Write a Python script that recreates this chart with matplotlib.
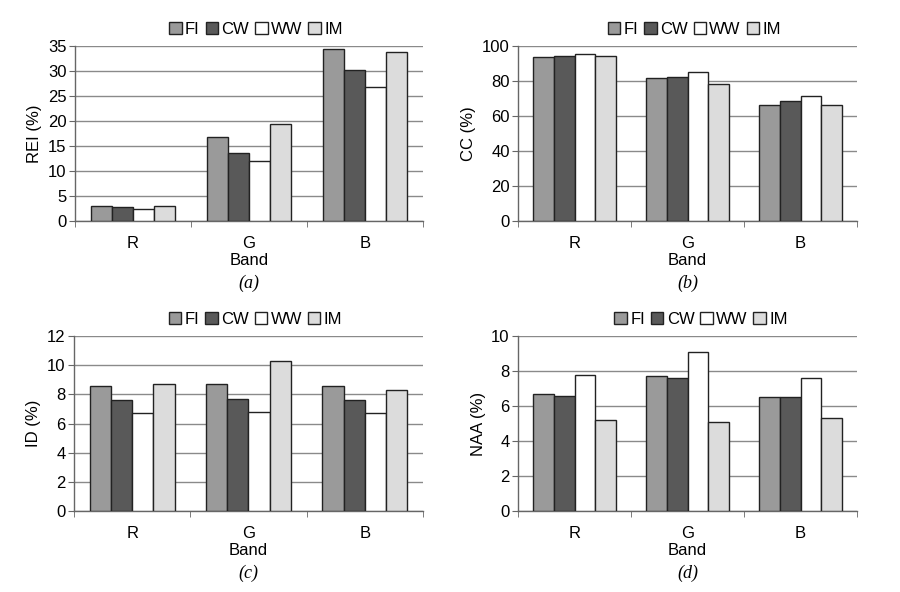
import numpy as np
import matplotlib
matplotlib.use("Agg")
import matplotlib.pyplot as plt

plt.rcParams['font.family'] = ['Liberation Sans', 'DejaVu Sans']

bands = ['R', 'G', 'B']
methods = ['FI', 'CW', 'WW', 'IM']
colors = ['#9a9a9a', '#595959', '#ffffff', '#dcdcdc']

rei = [[3.0, 16.7, 34.4],
       [2.7, 13.5, 30.1],
       [2.3, 12.0, 26.8],
       [3.0, 19.3, 33.8]]
cc = [[93.5, 81.5, 66.5],
      [94.5, 82.5, 68.5],
      [95.5, 85.0, 71.5],
      [94.5, 78.5, 66.5]]
id_vals = [[8.6, 8.7, 8.6],
           [7.6, 7.7, 7.6],
           [6.7, 6.8, 6.7],
           [8.7, 10.3, 8.3]]
naa = [[6.7, 7.7, 6.5],
       [6.6, 7.6, 6.5],
       [7.8, 9.1, 7.6],
       [5.2, 5.1, 5.3]]

panels = [
    (rei, 'REI (%)', 35, 5, '(a)', [0.0833, 0.6267, 0.3867, 0.2956], 0.52),
    (cc, 'CC (%)', 100, 20, '(b)', [0.5756, 0.6267, 0.3767, 0.2956], 0.52),
    (id_vals, 'ID (%)', 12, 2, '(c)', [0.0822, 0.1368, 0.3878, 0.2956], 0.52),
    (naa, 'NAA (%)', 10, 2, '(d)', [0.5756, 0.1368, 0.3767, 0.2956], 0.54),
]

fig = plt.figure(figsize=(9, 5.92), dpi=100)
x = np.arange(len(bands))
w = 0.1825
fs = 12

for data, ylabel, ymax, step, tag, pos, legx in panels:
    ax = fig.add_axes(pos)
    for i, m in enumerate(methods):
        ax.bar(x + (i - 1.5) * w, data[i], w, color=colors[i], edgecolor='#222222',
               linewidth=1.0, label=m, zorder=3)
    ax.set_xlim(-0.5, 2.5)
    ax.set_ylim(0, ymax)
    ax.set_yticks(np.arange(0, ymax + step / 2, step))
    ax.yaxis.grid(True, color='#8a8a8a', linewidth=1.0, zorder=0)
    ax.set_axisbelow(True)
    ax.set_xticks(x)
    ax.set_xticklabels(bands)
    ax.set_xticks([-0.5, 0.5, 1.5, 2.5], minor=True)
    ax.tick_params(axis='x', which='major', length=0, labelsize=fs, pad=11)
    ax.tick_params(axis='x', which='minor', length=4, color='#666666')
    ax.tick_params(axis='y', length=4, color='#666666', labelsize=fs, pad=2)
    for s in ['top', 'right']:
        ax.spines[s].set_visible(False)
    for s in ['left', 'bottom']:
        ax.spines[s].set_color('#666666')
        ax.spines[s].set_linewidth(1.0)
    ax.set_ylabel(ylabel, fontsize=fs, labelpad=4)
    ax.set_xlabel('Band', fontsize=fs, labelpad=1)
    ax.text(0.5, -0.355, tag, transform=ax.transAxes, ha='center', va='center',
            fontsize=13, family='Liberation Serif', style='italic')
    leg = ax.legend(loc='center', bbox_to_anchor=(legx, 1.097), ncol=4, frameon=True,
                    fontsize=fs, handlelength=0.75, handleheight=0.75,
                    handletextpad=0.2, columnspacing=0.35, borderpad=0.3,
                    borderaxespad=0)
    leg.get_frame().set_facecolor('white')
    leg.get_frame().set_edgecolor('white')
    leg.get_frame().set_alpha(1.0)
    leg.set_zorder(5)

fig.savefig('out.png', dpi=100)
